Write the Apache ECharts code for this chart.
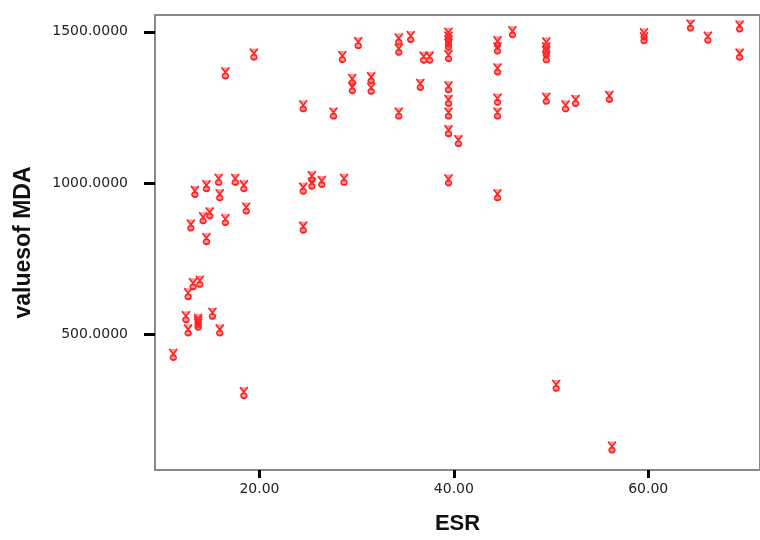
<!DOCTYPE html>
<html>
<head>
<meta charset="utf-8">
<script src="https://cdn.jsdelivr.net/npm/echarts@6/dist/echarts.min.js"></script>
<style>html,body{margin:0;padding:0;background:#fff;}#c{width:760px;height:540px;}</style>
</head>
<body>
<div id="c"></div>
<script>
var esr = [19.42,16.49,30.16,28.53,34.33,34.33,35.56,36.89,37.50,39.45,39.45,39.45,39.45,39.45,
  29.55,29.55,31.49,31.49,36.55,39.45,39.45,39.45,39.45,40.47,24.50,27.61,34.33,39.45,
  24.50,25.39,25.39,26.41,28.70,15.80,17.51,14.54,18.39,13.35,15.91,18.64,14.88,14.20,16.49,12.94,24.50,
  14.54,13.86,13.17,12.66,12.43,15.16,13.69,13.69,13.69,12.66,15.91,11.13,18.39,
  46.03,44.49,44.49,44.49,49.51,49.51,49.51,49.51,59.57,59.57,64.35,66.13,69.40,69.40,
  44.49,44.49,49.51,51.49,52.52,56.00,44.49,50.53,56.27];
var mda = [1426,1364,1464,1418,1476,1442,1484,1416,1416,1495,1482,1469,1459,1421,
  1342,1315,1348,1313,1326,1318,1273,1231,1173,1140,1255,1231,1231,1010,
  983,1021,999,1005,1012,1012,1012,991,991,972,961,917,901,885,879,861,854,
  816,675,667,634,558,569,549,541,533,514,514,433,307,
  1500,1467,1446,1377,1463,1447,1434,1417,1493,1480,1522,1482,1519,1426,
  1277,1231,1280,1255,1273,1286,961,331,127];
var xTicks = [20, 40, 60];
var yTicks = [500, 1000, 1500];
var xTitle = 'ESR';
var yTitle = 'valuesof MDA';

var pts = esr.map(function (v, i) { return [v, mda[i]]; });
var chart = echarts.init(document.getElementById('c'), null, {renderer: 'canvas'});
var glyph = 'path://M0,0 L4,6 L8,0 M1,10 A3,3 0 1 1 7,10 A3,3 0 1 1 1,10 Z';
chart.setOption({
  animation: false,
  backgroundColor: '#fff',
  grid: {left: 155, top: 15, right: -3, bottom: 65, show: true, borderColor: '#888', borderWidth: 2, backgroundColor: 'transparent'},
  xAxis: {
    type: 'value', min: 9.25, max: 71.5,
    name: xTitle, nameLocation: 'middle', nameGap: 43,
    nameTextStyle: {fontFamily: 'Liberation Sans', fontWeight: 'bold', fontSize: 22, color: '#111'},
    splitLine: {show: false},
    axisLine: {show: true, lineStyle: {color: '#888', width: 2}},
    axisTick: {show: true, customValues: xTicks, length: 8, inside: false, lineStyle: {color: '#000', width: 3}},
    axisLabel: {customValues: xTicks, margin: 12, fontFamily: 'DejaVu Sans', fontSize: 14, color: '#222',
      formatter: function (v) { return v.toFixed(2); }}
  },
  yAxis: {
    type: 'value', min: 51.3, max: 1555.6,
    name: yTitle, nameLocation: 'middle', nameGap: 120, nameRotate: 90,
    nameTextStyle: {fontFamily: 'Liberation Sans', fontWeight: 'bold', fontSize: 23, color: '#111'},
    splitLine: {show: false},
    axisLine: {show: true, lineStyle: {color: '#888', width: 2}},
    axisTick: {show: true, customValues: yTicks, length: 11, inside: false, lineStyle: {color: '#000', width: 3}},
    axisLabel: {customValues: yTicks, margin: 27, fontFamily: 'DejaVu Sans', fontSize: 14, color: '#222',
      formatter: function (v) { return v.toFixed(4); }}
  },
  series: [{
    type: 'scatter',
    data: pts,
    symbol: glyph,
    symbolSize: [8, 11],
    itemStyle: {color: 'rgba(255,60,60,0.55)', borderColor: '#ff2020', borderWidth: 1.6, opacity: 1}
  }]
});
</script>
</body>
</html>
